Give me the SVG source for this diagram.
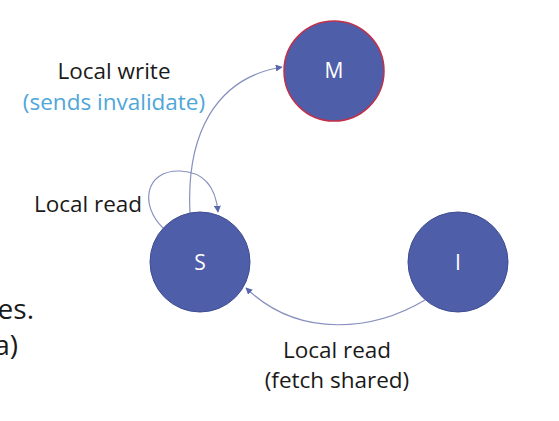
<svg xmlns="http://www.w3.org/2000/svg" width="559" height="421" viewBox="0 0 559 421">
<style>
.node{fill:#4f5ea8;stroke:#3e4d92;stroke-width:1}
.nlab{font-family:"Open Sans",sans-serif;font-size:21px;fill:#ffffff;text-anchor:middle}
.lab{font-family:"Open Sans",sans-serif;font-size:22.5px;fill:#1a1a1a;text-anchor:middle}
.edge{fill:none;stroke:#8890bf;stroke-width:1.2}
</style>
<defs>
<marker id="ah" viewBox="0 0 10 10" refX="9" refY="5" markerWidth="7" markerHeight="7" markerUnits="userSpaceOnUse" orient="auto">
<path d="M0,0 L10,5 L0,10 z" fill="#5a67ad"/>
</marker>
</defs>
<rect width="559" height="421" fill="#ffffff"/>
<g id="connectors">
<path class="edge" d="M190,213 C186,135 215,78 282,67" marker-end="url(#ah)"/>
<path class="edge" d="M163,228 C140,206 144,170 180,171 C206,172 216,190 218,212" marker-end="url(#ah)"/>
<path class="edge" d="M425,300 C375,330 300,340 246,288" marker-end="url(#ah)"/>
</g>
<g id="node-M">
<circle cx="334" cy="71" r="50" class="node" style="stroke:#c0304a;stroke-width:1.5"/>
<text x="334" y="78" class="nlab">M</text>
</g>
<g id="node-S">
<circle cx="200" cy="262" r="50" class="node"/>
<text x="200" y="270" class="nlab">S</text>
</g>
<g id="node-I">
<circle cx="458" cy="262" r="50" class="node"/>
<text x="458" y="270" class="nlab">I</text>
</g>
<g id="labels">
<text x="114" y="79" class="lab">Local write</text>
<text x="114" y="110" class="lab" style="fill:#4ea6d9">(sends invalidate)</text>
<text x="88" y="212" class="lab">Local read</text>
<text x="337" y="358" class="lab">Local read</text>
<text x="337" y="388" class="lab">(fetch shared)</text>
<text x="34" y="319" class="lab" style="font-size:28px;text-anchor:end">es.</text>
<text x="18" y="355" class="lab" style="font-size:28px;text-anchor:end">a)</text>
</g>
</svg>
